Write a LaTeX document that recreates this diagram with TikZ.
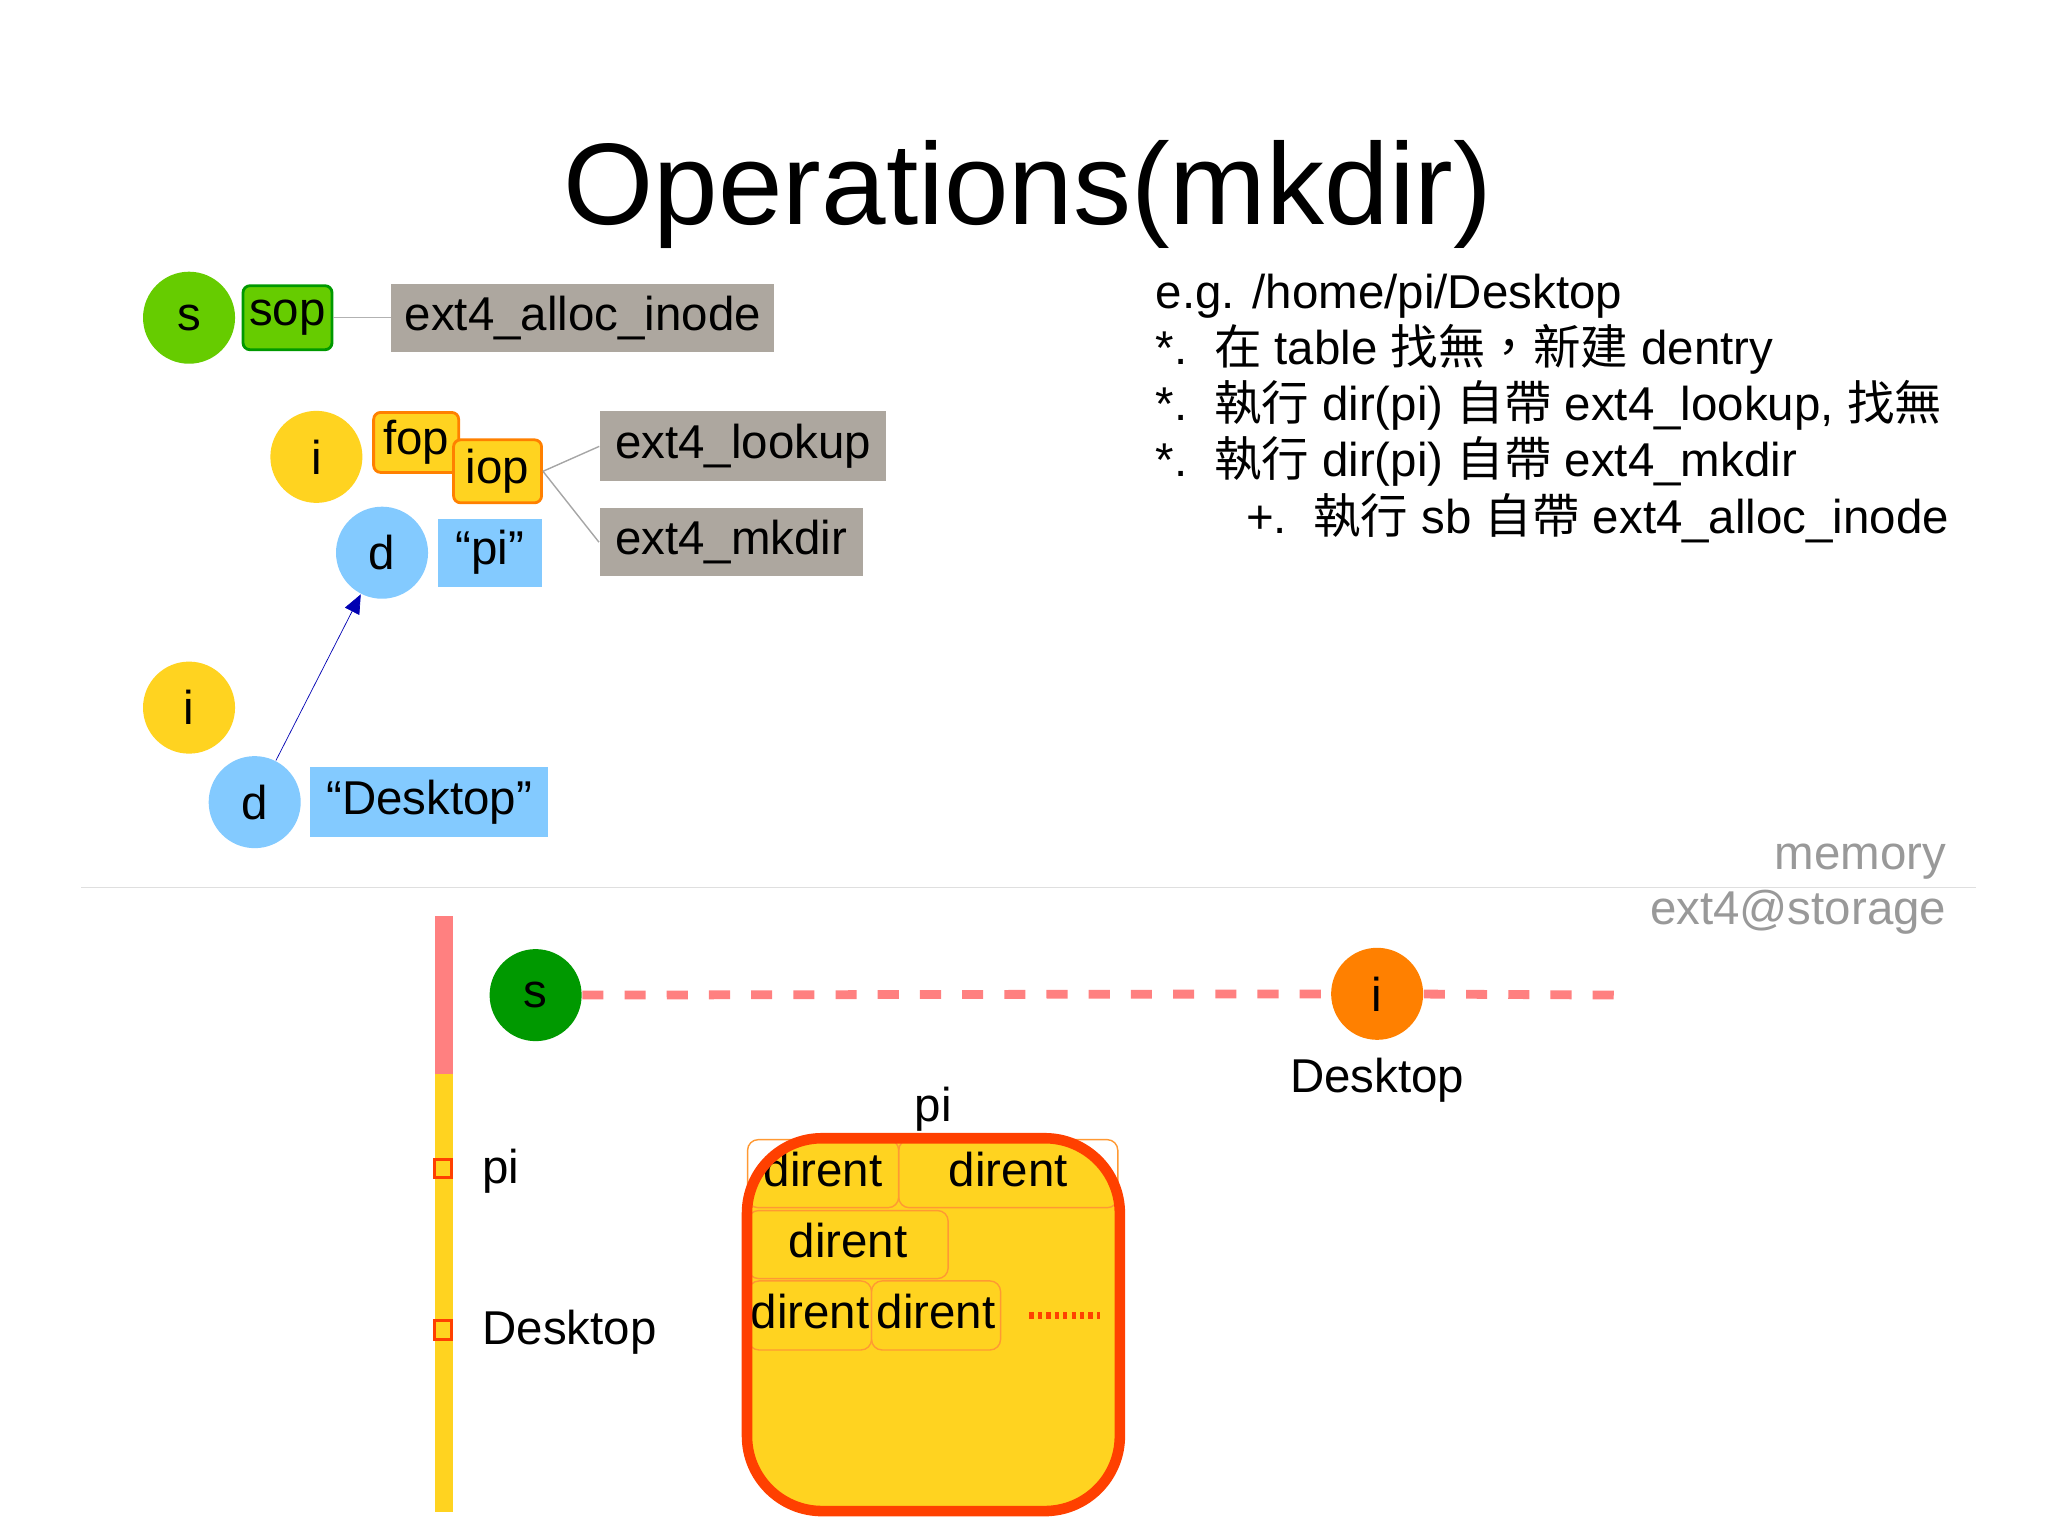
\documentclass[tikz,border=0pt]{standalone}
\usepackage{fontspec}
\setmainfont{Liberation Sans}
\newfontfamily\cjk{Noto Sans CJK TC}
\usetikzlibrary{arrows,shapes,positioning}
\definecolor{ygold}{HTML}{FFD320}
\definecolor{lgreen}{HTML}{66CC00}
\definecolor{dgreen}{HTML}{009900}
\definecolor{lblue}{HTML}{83CAFF}
\definecolor{tgrey}{HTML}{ADA79F}
\definecolor{rline}{HTML}{FF4000}
\begin{document}
\begin{tikzpicture}
  [x=0.01313cm,y=-0.01313cm,
 ball/.style={circle, minimum size=0.92cm, inner sep=0pt, font=\fontsize{13.5}{16}\selectfont},
 tag/.style={rectangle, inner sep=0pt, font=\fontsize{13.5}{16}\selectfont},
 fn/.style={tag, fill=tgrey},
 op/.style={tag, fill=ygold, draw=orange, thick, rounded corners=2pt},
 dir/.style={tag, draw=orange!80, rounded corners=3pt, text height=0.36cm, text depth=0.1cm},
 big/.style={font=\fontsize{13.5}{16}\selectfont},
 tip/.style={-triangle 45, blue!70!black}]
\useasboundingbox (0,0) rectangle (1560,1170);
\node (title) at (783,148) {\fontsize{33}{38}\selectfont Operations(mkdir)};
% memory side
\node (s) [ball, fill=lgreen] at (144,242) {s};
\node (sop) [op, fill=lgreen, draw=dgreen, minimum width=0.89cm, minimum height=0.64cm] at (219,242) {sop};
\node (alloc) [fn, minimum width=3.83cm, minimum height=0.68cm] at (444,242) {ext4\_alloc\_inode};
\node (i1) [ball, fill=ygold] at (241,348) {i};
\node (fop) [op, minimum width=0.85cm, minimum height=0.6cm] at (317,337) {fop};
\node (iop) [op, minimum width=0.88cm, minimum height=0.63cm] at (379,359) {iop};
\node (lookup) [fn, minimum width=2.86cm, minimum height=0.7cm] at (566,340) {ext4\_lookup};
\node (mkdir) [fn, minimum width=2.63cm, minimum height=0.68cm] at (557,413) {ext4\_mkdir};
\node (d1) [ball, fill=lblue] at (291,421) {d};
\node (pi) [tag, fill=lblue, minimum width=1.04cm, minimum height=0.68cm] at (373,421) {“pi”};
\node (i2) [ball, fill=ygold] at (144,539) {i};
\node (d2) [ball, fill=lblue] at (194,611) {d};
\node (desk) [tag, fill=lblue, minimum width=2.38cm, minimum height=0.7cm] at (327,611) {“Desktop”};
\draw[gray!60] (sop) -- (alloc);
\draw[gray!70] (iop.east) -- (lookup.west);
\draw[gray!70] (iop.east) -- (mkdir.west);
\draw[tip, very thin] (d2) -- (d1);
% notes
\node [big, anchor=north west, align=left, inner sep=0pt] at (880,208) {e.g. /home/pi/Desktop\\[0pt]
*.\ \ {\cjk 在} table {\cjk 找無，新建} dentry\\[0pt]
*.\ \ {\cjk 執行} dir(pi) {\cjk 自帶} ext4\_lookup,\ {\cjk 找無}\\[0pt]
*.\ \ {\cjk 執行} dir(pi) {\cjk 自帶} ext4\_mkdir\\[0pt]
\hspace{0.9cm}+.\ \ {\cjk 執行} sb {\cjk 自帶} ext4\_alloc\_inode};
% separator
\draw[gray!25] (62,676) -- (1505,676);
\node [big, gray!80, anchor=east] at (1492,656) {memory};
\node [big, gray!80, anchor=east] at (1492,695) {ext4@storage};
% storage side
\fill[red!50] (331,698) rectangle (345,818);
\fill[ygold] (331,818) rectangle (345,1152);
\draw[rline, thick] (331,883) rectangle (344,897);
\draw[rline, thick] (331,1006) rectangle (344,1020);
\node [big, anchor=west] at (358,892) {pi};
\node [big, anchor=west] at (358,1015) {Desktop};
\node (s2) [ball, fill=dgreen] at (408,758) {s};
\node (i3) [ball, fill=orange] at (1049,757) {i};
\coordinate (tail) at (1235,758);
\draw[red!50, line width=2.5pt, dash pattern=on 6pt off 6pt] (s2) -- (i3);
\draw[red!50, line width=2.5pt, dash pattern=on 6pt off 6pt] (i3) -- (tail);
\node [big] at (1049,823) {Desktop};
\node [big] at (711,845) {pi};
\fill[ygold, rounded corners=0.75cm] (568,866) rectangle (853,1152);
\node (d11) [dir, minimum width=1.51cm, minimum height=0.68cm] at (627,894) {dirent};
\node (d12) [dir, minimum width=2.19cm, minimum height=0.68cm] at (768,894) {dirent};
\node (d21) [dir, minimum width=2.0cm, minimum height=0.68cm] at (646,948) {dirent};
\node (d31) [dir, minimum width=1.23cm, minimum height=0.69cm] at (617,1002) {dirent};
\node (d32) [dir, minimum width=1.29cm, minimum height=0.69cm] at (713,1002) {dirent};
\coordinate (dotend) at (838,1002);
\draw[rline, line width=2pt, dash pattern=on 1.2pt off 1.2pt] ([xshift=8]d32.east) -- (dotend);
\draw[rline, line width=3pt, rounded corners=0.75cm] (569,867) rectangle (853,1151);
\end{tikzpicture}
\end{document}
